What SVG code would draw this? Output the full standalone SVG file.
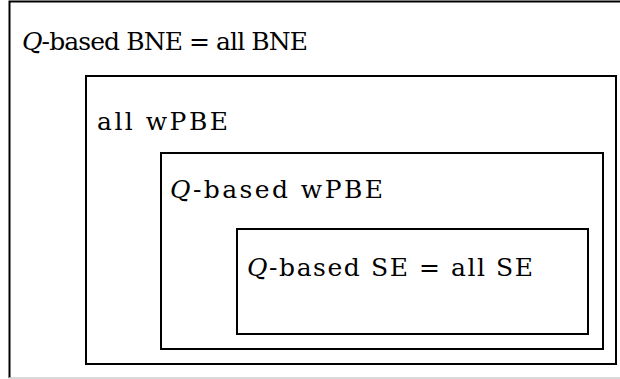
<svg xmlns="http://www.w3.org/2000/svg" width="620" height="379" viewBox="0 0 620 379">
<style>
.box{fill:none;stroke:#000;stroke-width:2}
.t{font-family:"DejaVu Serif",serif;font-size:25px;fill:#000}
.i{font-style:italic}
</style>
<rect width="620" height="379" fill="#fff"/>
<g id="allBNE">
<path class="box" d="M9.5,378 V1.5 H622"/>
<line x1="9" y1="378" x2="620" y2="378" stroke="#ccc" stroke-width="1.5"/>
<text class="t" x="22" y="50" textLength="286" lengthAdjust="spacing"><tspan class="i">Q</tspan>-based BNE = all BNE</text>
</g>
<g id="allwPBE">
<rect class="box" x="86" y="76" width="530" height="288"/>
<text class="t" x="97" y="130" textLength="131" lengthAdjust="spacing">all wPBE</text>
</g>
<g id="QwPBE">
<rect class="box" x="161" y="153" width="442" height="196"/>
<text class="t" x="170" y="198" textLength="213" lengthAdjust="spacing"><tspan class="i">Q</tspan>-based wPBE</text>
</g>
<g id="QSE">
<rect class="box" x="237" y="229" width="351" height="105"/>
<text class="t" x="247" y="276" textLength="286" lengthAdjust="spacing"><tspan class="i">Q</tspan>-based SE = all SE</text>
</g>
<g id="connectors"/>
</svg>
